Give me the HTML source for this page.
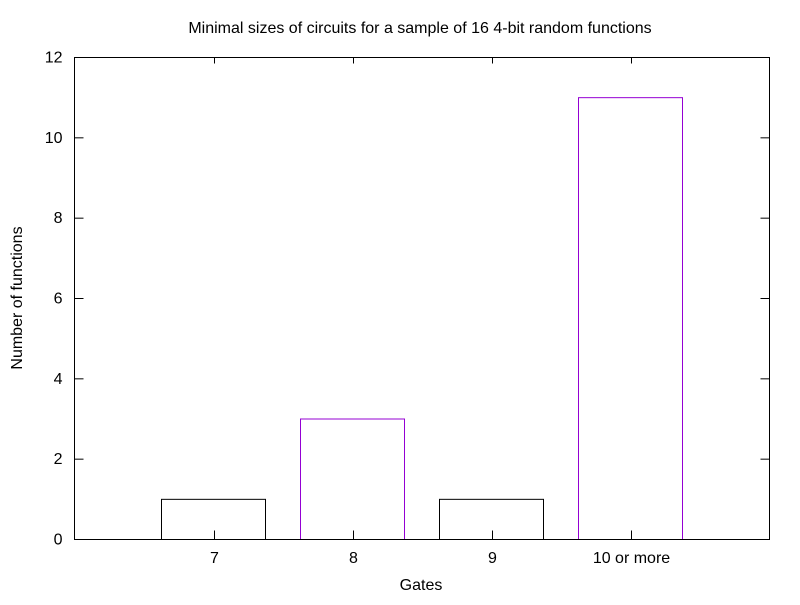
<!DOCTYPE html>
<html><head><meta charset="utf-8"><style>
body{margin:0;background:#fff}
svg text{font-family:"Liberation Sans",sans-serif;font-size:16px;fill:#000}
</style></head><body>
<svg id="chart" width="800" height="600">
<rect width="800" height="600" fill="#fff"/>
<text x="420" y="33" text-anchor="middle">Minimal sizes of circuits for a sample of 16 4-bit random functions</text>
<text x="421" y="590" text-anchor="middle">Gates</text>
<text transform="translate(22,298) rotate(-90)" text-anchor="middle">Number of functions</text>
<g id="ax"></g>
<g id="bars"></g>
<rect x="74.5" y="57.5" width="695" height="482" fill="none" stroke="#000"/>
</svg>
<script>
const categories=["7","8","9","10 or more"];
const values=[1,3,1,11];
const colors=["#000","#9400d3","#000","#9400d3"];
const yTicks=[0,2,4,6,8,10,12];
const L=74.5,R=769.5,T=57.5,B=539.5;
const xs=i=>L+(i+1)*(R-L)/(categories.length+1);
const ys=v=>B-v*(B-T)/12;
const NS="http://www.w3.org/2000/svg";
const ax=document.getElementById('ax'),bars=document.getElementById('bars');
function mk(tag,a,p){const e=document.createElementNS(NS,tag);for(const k in a)e.setAttribute(k,a[k]);p.appendChild(e);return e;}
yTicks.forEach(t=>{
 const y=ys(t);
 const l1=mk('line',{x1:L,x2:L+9,y1:y,y2:y,stroke:'#000'},ax);
 
 
 mk('line',{x1:R,x2:R-9,y1:y,y2:y,stroke:'#000'},ax);
 const tx=mk('text',{x:L-12,y:y+5,'text-anchor':'end'},ax);tx.textContent=t;
 
 
});
categories.forEach((c,i)=>{
 const x=Math.round(xs(i))+0.5;
 mk('line',{x1:x,x2:x,y1:B,y2:B-9,stroke:'#000'},ax);
 mk('line',{x1:x,x2:x,y1:T,y2:T+6,stroke:'#000'},ax);
 const tx=mk('text',{x:x,y:563,'text-anchor':'middle'},ax);tx.textContent=c;
 
 
 const w=(R-L)/(categories.length+1)*0.75;
 const r=mk('rect',{x:Math.round(xs(i)-w/2)+0.5,y:ys(values[i]),width:Math.round(w),height:B-ys(values[i]),fill:'none',stroke:colors[i]},bars);
 
 
});
</script>
</body></html>
